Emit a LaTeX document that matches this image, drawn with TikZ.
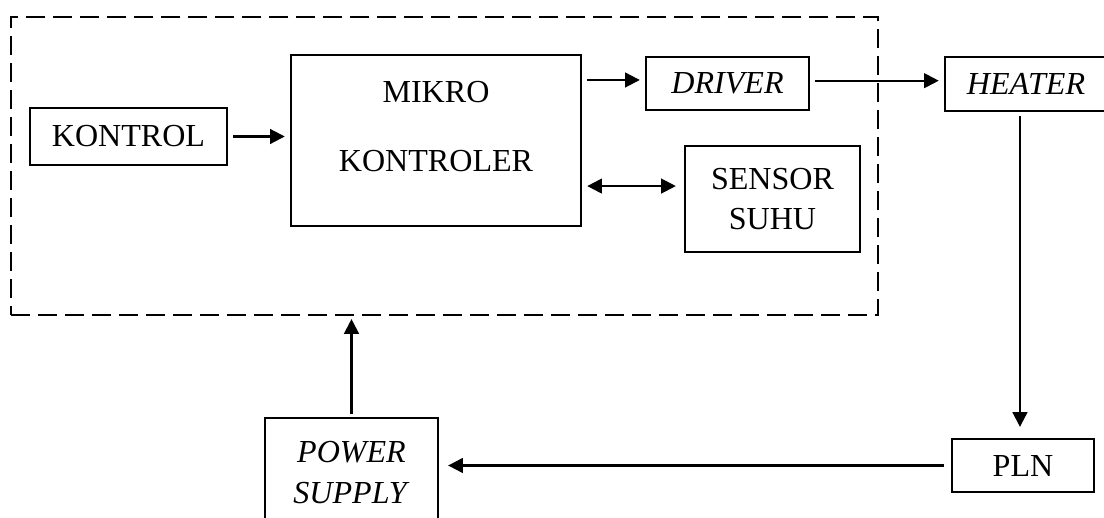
\documentclass[tikz,border=0pt]{standalone}
\usepackage{fontspec}
\setmainfont{Liberation Serif}
\usetikzlibrary{arrows.meta}

\begin{document}
\begin{tikzpicture}[x=0.025cm, y=-0.025cm,
  every node/.style={font=\fontsize{22.8}{28.5}\selectfont},
  box/.style={draw, line width=1.6pt, inner sep=0pt, align=center},
  arr/.style={-{Triangle[length=10.5pt, width=10.5pt]}, line width=1.5pt, shorten <=3.6pt, shorten >=3.6pt},
  dualarr/.style={arr, {Triangle[length=10.5pt, width=10.5pt]}-{Triangle[length=10.5pt, width=10.5pt]}}]
  \useasboundingbox (0,0) rectangle (1104,518);
  \clip (0,0) rectangle (1104,518);
  % control unit (dashed frame)
  \node[draw, line width=1.5pt, dash pattern=on 13.5pt off 5.7pt, minimum width=21.675cm, minimum height=7.45cm, inner sep=0pt] (unit) at (444.5,166) {};
  \node[box, minimum width=4.925cm, minimum height=1.425cm] (kontrol) at (128.5,136.5) {KONTROL};
  \node[box, minimum width=7.25cm, minimum height=4.275cm, text depth=20pt] (mikro) at (436,140.5) {MIKRO\\[20.5pt]KONTROLER};
  \node[box, minimum width=4.075cm, minimum height=1.325cm] (driver) at (727.5,83.5) {\textit{DRIVER}};
  \node[box, minimum width=4.375cm, minimum height=2.65cm] (sensor) at (772.5,199) {SENSOR\\SUHU};
  % outside the frame
  \node[box, minimum width=4.05cm, minimum height=1.35cm] (heater) at (1026,84) {\textit{HEATER}};
  \node[box, minimum width=3.55cm, minimum height=1.325cm] (pln) at (1023,465.5) {PLN};
  \node[box, minimum width=4.325cm, minimum height=2.725cm] (power) at (351.5,472.5) {\textit{POWER}\\\textit{SUPPLY}};
  % connectors
  \draw[arr] (kontrol.east) -- (kontrol.east -| mikro.west);
  \draw[arr] ([yshift=2.5pt]mikro.east |- driver.west) -- ([yshift=2.5pt]driver.west);
  \draw[arr] ([yshift=2pt]driver.east) -- ([yshift=2pt]driver.east -| heater.west);
  \draw[dualarr, shorten >=5.7pt] ([yshift=9.2pt]mikro.east |- sensor.west) -- ([yshift=9.2pt]sensor.west);
  \draw[arr, shorten <=2.8pt, shorten >=7.8pt] ([xshift=-4.3pt]heater.south) -- ([xshift=-4.3pt]heater.south |- pln.north);
  \draw[arr, shorten <=5pt, shorten >=6.4pt] (pln.west) -- (pln.west -| power.east);
  \draw[arr, shorten <=2.1pt, shorten >=2.1pt] (power.north) -- (power.north |- unit.south);
\end{tikzpicture}
\end{document}
